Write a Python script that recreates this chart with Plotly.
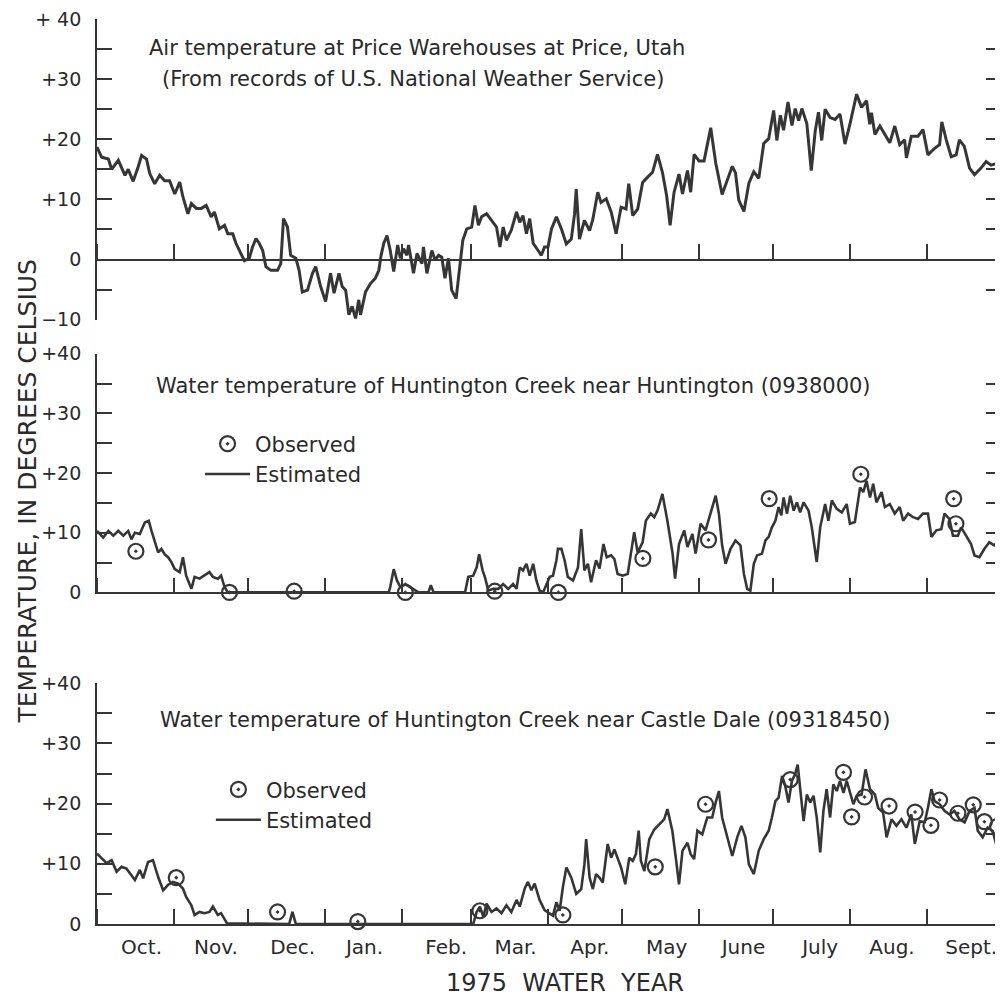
import pandas as pd
import plotly.graph_objects as go

# ---------------- data (day = days since 1 Oct 1974, temperature in deg C) -------------
WY_START = "1974-10-01"
WY_END = "1975-10-01"

month_starts = ["1974-10-01", "1974-11-01", "1974-12-01", "1975-01-01", "1975-02-01",
                "1975-03-01", "1975-04-01", "1975-05-01", "1975-06-01", "1975-07-01",
                "1975-08-01", "1975-09-01", "1975-10-01"]
month_label_pos = ["1974-10-19", "1974-11-18", "1974-12-19", "1975-01-17", "1975-02-19",
                   "1975-03-19", "1975-04-18", "1975-05-19", "1975-06-19", "1975-07-20",
                   "1975-08-18", "1975-09-19"]
month_labels = ["Oct.", "Nov.", "Dec.", "Jan.", "Feb.", "Mar.", "Apr.", "May", "June",
                "July", "Aug.", "Sept."]

air_days = [0, 1.9, 4.6, 5.9, 8.6, 11.3, 12.6, 14.6, 16.6, 18, 20, 21.3, 23.3, 25.3, 27.3,
            29.3, 31.4, 33.4, 34.7, 36.7, 38.1, 40.1, 42.1, 44.1, 46.1, 47.4, 49.4, 51.5,
            52.8, 54.8, 56.1, 58.2, 59.5, 61.5, 62.8, 64.2, 65.5, 66.9, 68.2, 70.2, 72.9,
            74.2, 75.3, 76.9, 78.2, 80.3, 81.6, 82.9, 85, 87, 88.3, 90.3, 92.3, 94.3, 95.7,
            97.7, 99, 100.4, 101.7, 103, 104.4, 105.7, 106.4, 108.4, 110.4, 112.4, 113.8,
            114.7, 115.8, 117.1, 118.4, 119.8, 121.4, 122.5, 123.8, 125.1, 125.8, 127.8,
            129.2, 131.2, 131.8, 133.2, 135.2, 136.5, 137.9, 139.2, 140.5, 141.9, 143.2,
            145, 146.3, 147.7, 149.3, 151.3, 152.6, 154, 155.3, 157.3, 159.3, 161.3, 162.7,
            164, 165.3, 167.3, 169.4, 170.7, 172, 173.4, 174.7, 176.1, 178.1, 179.4, 180.7,
            182.1, 183.5, 185.5, 187.5, 189.5, 191.5, 192.8, 193.5, 194.8, 196.8, 198.9,
            200.2, 202.2, 203.5, 205.6, 207.6, 209.6, 211.6, 213.6, 214.7, 216.3, 218.3,
            220.3, 222.3, 224.3, 226.3, 228.3, 230, 231.4, 233, 235, 236.4, 238.4, 239.7,
            241.1, 243.1, 245.1, 247.8, 249.8, 252.4, 254.5, 256.5, 257.8, 259.1, 261.2,
            263.2, 265.2, 267.2, 269.2, 271.2, 273.2, 274.5, 275.9, 277.2, 279, 280.6,
            281.9, 283.3, 284.6, 286.6, 288.4, 290, 291.3, 292.6, 294, 296, 298, 300, 302,
            304, 306.7, 308.7, 310.7, 312, 312.7, 314.1, 316.1, 318.1, 320.1, 322.1, 324.1,
            326.1, 326.8, 328.8, 331.5, 333.5, 335.5, 338.2, 340.2, 341.1, 342.9, 344.9,
            346.9, 348.2, 350.2, 352.3, 354.3, 356.9, 359, 361, 363.6]
air_temp = [18.7, 17, 16.7, 15, 16.5, 14, 15, 13, 15.4, 17.3, 16.7, 14.3, 12.6, 14, 13.1,
            13.1, 10.9, 12.9, 10.4, 7.6, 9.3, 8.5, 8.5, 9, 7.1, 7.9, 5.1, 5.7,
            4.3, 4.3, 2.7, 1, -0.2, 0.2, 2.1, 3.5, 2.7, 1.5, -1.2, -1.8, -1.8,
            -0.7, 6.8, 5.4, 0.7, 0.2, -1.8, -5.4, -5.1, -2.3, -1.2, -4.5, -7, -2.3, -5.6,
            -2.3, -4.5, -5.1, -9.2, -7.8, -9.8, -6.7, -9.2, -5.4, -4, -3.1, -1.8,
            0.7, 2.7, 4, 1.5, -2, 2.4, 0.2, 1.8, 0.7, 2.4, -2.3,
            1, -0.7, 2.1, -2.3, 1.5, -0.1, 0.7, 0.4, -3.1, 0.2, -5.1,
            -6.5, -2.3, 3.2, 5.1, 5.4, 9, 5.7, 7.1, 7.6, 6.5, 5.4, 2.1,
            5.4, 3.2, 4.9, 7.9, 6.2, 7.3, 4.3, 6.8, 2.7, 1.5, 0.7, 2.1,
            2.1, 5.1, 7.1, 5.1, 2.6, 3.4, 7.5, 11.7, 3.4, 6.5, 4.8,
            6.7, 11.2, 9.5, 10.1, 7.9, 4.3, 8.7, 8.4, 12.6, 7.3, 8.4,
            12.8, 13.7, 14.5, 17.5, 14.5, 10.6, 5.7, 11.2, 14.2, 10.9, 14.8, 11.2,
            17.5, 16.4, 16.4, 21.9, 16.1, 10.8, 13.3, 15.5, 14.4, 9.9, 8,
            12.7, 14.6, 13.5, 19.3, 20.1, 24.8, 19.8, 24, 21.5, 26.2, 22.3,
            25.1, 23.1, 25.1, 22.6, 14.8, 21.4, 24.5, 19.8, 25, 23.6, 23.3, 24.2, 19.2,
            22.5, 27.5, 25.3, 26.4, 22.5, 24.4, 20.8, 22.2, 20.8, 19.4, 22.2, 19.1,
            19.9, 16.9, 20.5, 20.5, 21.6, 17.4, 18.5, 19.1, 22.9, 19.9, 17.1,
            17.4, 19.9, 18.8, 15.2, 14.1, 15.2, 16.3, 15.7, 16]

hunt_days = [0, 2.5, 4.6, 6.6, 8.6, 10.6, 12.6, 13.9, 15.3, 17.3, 19.3, 20.9, 22, 23.3,
             24.7, 26, 27.3, 28.7, 30, 31.4, 33.4, 34.7, 36, 38.1, 39.4, 41.4, 43.4, 45.4,
             46.8, 48.8, 50.1, 51.5, 52.8, 117.8, 118.4, 119.8, 121.1, 122.5, 124.5, 126.5,
             128.5, 129.8, 133.8, 134.8, 135.9, 148.6, 149.9, 151.9, 153.3, 154.3, 155.7,
             156.6, 158, 160, 162, 164, 166, 168, 169.4, 170.7, 172, 173.4, 174.7, 176.1,
             177.4, 178.7, 180.1, 182.8, 184.1, 185.5, 186.1, 187.5, 188.8, 190.1, 192.2,
             194.2, 195.5, 196.8, 198.2, 199.5, 201.5, 202.9, 204.5, 205.8, 207.6, 208.9,
             210.2, 212.3, 214.3, 215.6, 216.9, 218.3, 220.3, 221.6, 223.6, 225, 226.3,
             228.3, 230.3, 232.4, 233.4, 235, 237.1, 238.4, 240.4, 241.7, 243.7, 245.7,
             247.8, 249.8, 251.1, 252.4, 253.8, 255.8, 257.8, 259.8, 261.2, 262.5, 263.8,
             265.2, 266.5, 268.5, 269.9, 271.2, 272.5, 273.9, 275.2, 276.3, 277.2, 278.6,
             279.9, 281.3, 282.6, 283.9, 285.3, 287.3, 288.6, 290.6, 292, 294, 295.3, 296.7,
             298.7, 300.7, 302.7, 304, 306, 308.1, 309.4, 310.7, 312.1, 313.4, 314.7, 316.8,
             318.1, 320.1, 322.1, 324.1, 325.5, 327.5, 329.5, 331.5, 333.5, 335.5, 336.9,
             338.9, 340.9, 342.2, 344.2, 345.6, 347.6, 348.9, 350.9, 352.9, 354.3, 356.3,
             358.3, 360.3, 362.3, 364.2]
hunt_temp = [10.3, 9.2, 10.3, 9.5, 10.3, 9.5, 10.3, 8.9, 10, 9.8, 11.7, 12, 10.3, 8.7,
             6.7, 7.3, 6.4, 5.9, 5.1, 3.9, 3.4, 5.9, 2.8, 0.6, 2.6, 2.3, 2.8, 3.4,
             2.6, 2.3, 2.8, 0.9, 0, 0, 0.9, 3.9, 2, 0.9, 1.4, 0.9,
             0.3, 0, 0, 1.2, 0, 0, 2.6, 2.8, 4.2, 6.4, 3.7,
             2.6, 0.3, 0.6, 0.6, 1.4, 0.6, 1.4, 0.6, 4.2, 3.7, 4.8, 2.8, 4.8,
             2, 0.3, 0, 2.6, 2.8, 5.4, 7.3, 7.3, 5.4, 2.6, 2,
             4.2, 10.6, 3.7, 4.8, 1.7, 5.4, 4, 8.1, 5.9, 6.2, 5.6,
             3.1, 2.8, 3.1, 6.5, 10.1, 6.7, 8.4, 12, 13.2, 12.6, 13.7,
             16.5, 12, 6.5, 2.3, 8.1, 10.4, 7.6, 9.8, 6.5, 11.5, 10.4,
             13.2, 16.2, 13.2, 7.9, 4.8, 7.3, 8.7, 7.9, 3.1, 0.6, 0.3,
             4.8, 6.2, 6.5, 8.7, 9.3, 10.9, 12, 14.3, 12.9, 15.9, 13.2,
             16.2, 13.7, 15.1, 13.4, 15.1, 13.7, 10.9, 5.1, 10.9, 14.8, 12, 15.4,
             14, 13.4, 14.8, 11.5, 11.8, 17.6, 16.8, 18.7, 15.9, 18.2, 15.1, 16.8,
             14.3, 14.8, 13.2, 14.3, 12, 13.2, 12.6, 12.3, 13.2, 13.2, 9.3,
             10.4, 10.6, 13.2, 12.3, 9.5, 9.5, 10.9, 9.5, 8.1, 6.2, 5.9,
             7.3, 8.4, 7.9, 8.7]
hunt_obs_days = [15.7, 53.5, 79.6, 124.5, 160.6, 186.3, 220.4, 246.9, 271.4, 308.4, 345.9, 346.8]
hunt_obs_temp = [6.9, 0, 0.2, 0, 0.2, 0, 5.7, 8.8, 15.7, 19.8, 15.7, 11.5]

cd_days = [0, 3.9, 5.9, 7.9, 9.9, 11.9, 13.9, 15.3, 17.3, 18.6, 20.6, 22.6, 24.7, 26.7,
           28.7, 30.7, 32.7, 34.7, 36, 38.1, 39.4, 41.4, 43.4, 45.4, 46.8, 48.8, 50.1,
           51.5, 52.5, 77.6, 78.9, 80.3, 151.9, 153.3, 154.6, 156, 157.3, 159.3, 161.3,
           163.3, 165.3, 167.3, 169.4, 170.7, 172.7, 174, 175.4, 176.7, 178.7, 180.7,
           182.1, 184.1, 185.5, 186.8, 188.1, 189.5, 191.5, 193.5, 195.5, 196.8, 197.5,
           198.9, 200.2, 201.5, 202.9, 204.2, 206.2, 207.6, 208.9, 210.2, 211.6, 213.3,
           214.9, 216.3, 217.6, 218.7, 219.6, 221, 223, 225, 227, 229, 230.3, 232.3,
           233.7, 235, 236.4, 238.4, 239.7, 241.1, 242.4, 244.4, 246.4, 248.4, 249.8,
           251.1, 252.4, 254.5, 256.5, 258.5, 260.2, 261.8, 263.2, 265.2, 267.2, 269.2,
           271.2, 272.5, 273.9, 275.2, 276.6, 277.9, 279.2, 280.6, 281.9, 282.9, 283.9,
           285.3, 286.6, 288, 289.3, 290.6, 292, 293.3, 294.6, 296, 297.3, 298.7, 300,
           301.4, 302.7, 304, 305.4, 306.7, 308.7, 310.3, 312.1, 314.1, 315.4, 317.4,
           318.8, 320.8, 322.8, 324.8, 326.8, 328.8, 330.2, 332.2, 334.2, 335.5, 336.9,
           338.2, 340.2, 342.2, 344.2, 346.2, 348.2, 350.3, 352.3, 354.3, 355.6, 357.6,
           359.6, 361.6, 363.4]
cd_temp = [11.7, 10.1, 10.6, 8.7, 9.5, 9.2, 8.1, 7.3, 9, 7.6, 10.3, 10.6, 7.8, 5.6,
           6.5, 7, 6.7, 5.9, 4.5, 3.1, 1.5, 2, 1.8, 2, 2.9, 1.5, 1.8,
           0.7, 0.1, 0, 2, 0, 0, 2, 2.9, 1.2, 3.4, 2, 2.6,
           1.8, 3.1, 2, 4, 2.9, 5.9, 7, 5.6, 6.7, 4, 2.3,
           1.9, 1.4, 3.6, 2.2, 6.1, 9.4, 7.7, 5, 5.8, 9.9, 14.1,
           7.7, 5.8, 8.3, 7.7, 6.9, 13.3, 11, 12.4, 10.8, 9.4, 6.6,
           11, 10.5, 11.6, 15.5, 10.5, 8.8, 14.1, 15.7, 16.6, 17.4, 19.1, 15.5,
           11, 6.6, 12.2, 13.5, 11.6, 10.8, 15.5, 14.9, 17.7, 17.7, 20.2,
           22.1, 17.7, 14.4, 11.3, 14.4, 16.3, 14.4, 9.9, 8.3, 12.2, 14.1,
           15.5, 17.7, 20.4, 21, 24.6, 22.9, 20.2, 23.8, 24.9, 26.5, 22.4,
           17.1, 21.5, 20.2, 21.3, 17.7, 11.9, 18.8, 22.4, 17.7, 23.2, 22.1, 23.8,
           21.8, 23.8, 22.1, 19.9, 21.3, 21.5, 25.7, 22.4, 21.5, 19.3, 18.5,
           14.4, 17.4, 16.3, 17.4, 16, 18.2, 13.3, 17.1, 16.9, 19.3, 22.4,
           20.4, 19.9, 18.8, 18.2, 18.8, 17.4, 16.9, 18.8, 19.3, 15.5, 14.4,
           16, 15.5, 12.7]
cd_obs_days = [32, 72.9, 105.3, 154.6, 188.1, 225.4, 245.7, 279.9, 301.4, 304.7, 309.9,
               319.8, 330.3, 336.7, 340.2, 347.6, 353.8, 358.3, 363.6]
cd_obs_temp = [7.7, 2, 0.4, 2.2, 1.5, 9.5, 19.9, 24, 25.2, 17.8, 21.1,
               19.6, 18.6, 16.4, 20.6, 18.4, 19.8, 17, 16.2]

# ---------------- helpers ----------------
start = pd.Timestamp(WY_START)


def to_dates(days):
    return start + pd.to_timedelta(pd.Series(days, dtype=float), unit="D")


INK = "#363636"
TEXT = "#2a2a2a"
FONT = "DejaVu Sans"

fig = go.Figure()

fig.add_trace(go.Scatter(x=to_dates(air_days), y=air_temp, mode="lines",
                         line=dict(color=INK, width=3), xaxis="x3", yaxis="y3",
                         showlegend=False, hoverinfo="x+y"))

fig.add_trace(go.Scatter(x=to_dates(hunt_days), y=hunt_temp, mode="lines", name="Estimated",
                         line=dict(color=INK, width=2.6), xaxis="x2", yaxis="y2",
                         legend="legend"))
fig.add_trace(go.Scatter(x=to_dates(hunt_obs_days), y=hunt_obs_temp, mode="markers",
                         name="Observed", cliponaxis=False,
                         marker=dict(symbol="circle-open-dot", size=15, color=INK,
                                     line=dict(width=2.2, color=INK)),
                         xaxis="x2", yaxis="y2", legend="legend"))

fig.add_trace(go.Scatter(x=to_dates(cd_days), y=cd_temp, mode="lines", name="Estimated",
                         line=dict(color=INK, width=2.6), xaxis="x", yaxis="y",
                         legend="legend2"))
fig.add_trace(go.Scatter(x=to_dates(cd_obs_days), y=cd_obs_temp, mode="markers",
                         name="Observed", cliponaxis=False,
                         marker=dict(symbol="circle-open-dot", size=15, color=INK,
                                     line=dict(width=2.2, color=INK)),
                         xaxis="x", yaxis="y", legend="legend2"))

xcommon = dict(type="date", range=[WY_START, WY_END], showgrid=False, zeroline=False,
               showline=True, linecolor=INK, linewidth=1.8, ticks="",
               tickmode="array", tickvals=month_label_pos, ticktext=month_labels,
               tickfont=dict(size=20, color=TEXT, family=FONT), ticklabelstandoff=4,
               ticklabeloverflow="allow",
               minor=dict(tickmode="array", tickvals=month_starts, ticks="inside",
                          ticklen=15, tickwidth=1.6, tickcolor=INK, showgrid=False))


def yax(lo, domain, anchor, labels):
    vals = list(range(lo, 41, 5))
    return dict(range=[lo, 40], domain=domain, anchor=anchor, showgrid=False,
                zeroline=False, showline=True, linecolor=INK, linewidth=1.8,
                mirror="ticks", ticks="inside", ticklen=15, tickwidth=1.6, tickcolor=INK,
                tickmode="array", tickvals=vals, ticktext=labels,
                ticklabeloverflow="allow",
                tickfont=dict(size=19, color=TEXT, family=FONT), ticklabelstandoff=10)


lab_air = ["\u221210", "", "0", "", "+10", "", "+20", "", "+30", "", "+ 40"]
lab_water = ["0", "", "+10", "", "+20", "", "+30", "", "+40"]

# The page body adds an 8 px offset, so the figure is sized 8 px smaller in each
# direction to keep the plotting area where the original has it.
fig.update_layout(
    width=995, height=999,
    margin=dict(l=89, r=0, t=10, b=83),
    paper_bgcolor="white", plot_bgcolor="white",
    font=dict(family=FONT, color=TEXT),
    xaxis=dict(xcommon, anchor="y", domain=[0, 1], showticklabels=True),
    xaxis2=dict(xcommon, anchor="y2", domain=[0, 1], showticklabels=False, matches="x"),
    xaxis3=dict(xcommon, anchor="free", position=0.734, domain=[0, 1],
                showticklabels=False, matches="x"),
    yaxis=yax(0, [0, 0.266], "x", lab_water),
    yaxis2=yax(0, [0.3664, 0.6302], "x2", lab_water),
    yaxis3=yax(-10, [0.6678, 1.0], "x3", lab_air),
    legend=dict(x=0.114, y=0.553, xanchor="left", yanchor="top",
                traceorder="reversed", bgcolor="rgba(0,0,0,0)",
                font=dict(size=21, color=TEXT, family=FONT), itemwidth=45,
                tracegroupgap=0),
    legend2=dict(x=0.126, y=0.171, xanchor="left", yanchor="top",
                 traceorder="reversed", bgcolor="rgba(0,0,0,0)",
                 font=dict(size=21, color=TEXT, family=FONT), itemwidth=45,
                 tracegroupgap=0),
    showlegend=True,
)

ann_font = dict(size=21, color=TEXT, family=FONT)
fig.add_annotation(text="Air temperature at Price Warehouses at Price, Utah",
                   xref="paper", yref="paper", x=0.3543, y=0.968, xanchor="center",
                   yanchor="middle", showarrow=False, font=ann_font)
fig.add_annotation(text="(From records of U.S. National Weather Service)",
                   xref="paper", yref="paper", x=0.35, y=0.934, xanchor="center",
                   yanchor="middle", showarrow=False, font=ann_font)
fig.add_annotation(text="Water temperature of Huntington Creek near Huntington (0938000)",
                   xref="paper", yref="paper", x=0.0629, y=0.5949, xanchor="left",
                   yanchor="middle", showarrow=False, font=ann_font)
fig.add_annotation(text="Water temperature of Huntington Creek near Castle Dale (09318450)",
                   xref="paper", yref="paper", x=0.0673, y=0.2252, xanchor="left",
                   yanchor="middle", showarrow=False, font=ann_font)
fig.add_annotation(text="TEMPERATURE, IN DEGREES CELSIUS", textangle=-90,
                   xref="paper", yref="paper", x=-0.0773, y=0.478, xanchor="center",
                   yanchor="middle", showarrow=False,
                   font=dict(size=25, color=TEXT, family=FONT))
fig.add_annotation(text="1975  WATER  YEAR",
                   xref="paper", yref="paper", x=0.5177, y=-0.0651, xanchor="center",
                   yanchor="middle", showarrow=False,
                   font=dict(size=24, color=TEXT, family=FONT))

fig.write_html("out.html")
